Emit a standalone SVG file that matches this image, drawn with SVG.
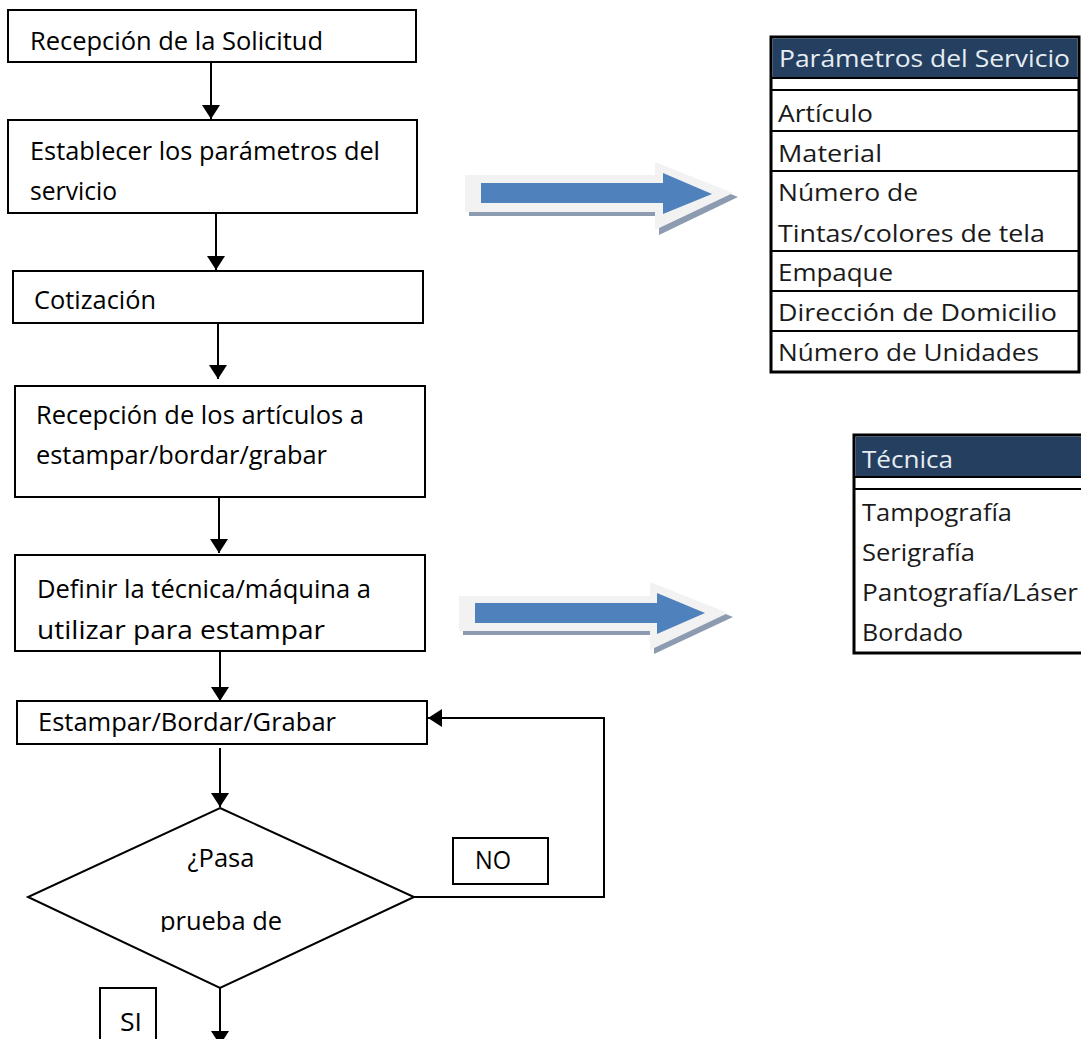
<svg xmlns="http://www.w3.org/2000/svg" width="1081" height="1039" viewBox="0 0 1081 1039">
<style>
.box{fill:#fff;stroke:#000;stroke-width:2}
.t{font-family:"Open Sans","Noto Sans","Liberation Sans",sans-serif;font-size:25.5px;fill:#000}
.tc{text-anchor:middle}
.tb{font-family:"Open Sans","Noto Sans","Liberation Sans",sans-serif;font-size:23.5px;fill:#1a1a1a}
.th{font-family:"Open Sans","Noto Sans","Liberation Sans",sans-serif;font-size:23.5px;fill:#e6ecf2}
.ln{fill:none;stroke:#000;stroke-width:2}
.row{stroke:#000;stroke-width:2}
</style>
<defs>
<marker id="ah" viewBox="0 0 14 18" refX="14" refY="9" markerWidth="14" markerHeight="18" markerUnits="userSpaceOnUse" orient="auto">
<path d="M0,0 L14,9 L0,18 Z" fill="#000"/>
</marker>
<clipPath id="dclip"><rect x="0" y="0" width="1081" height="932"/></clipPath>
</defs>

<g id="connectors">
<line class="ln" x1="211" y1="62" x2="211" y2="119" marker-end="url(#ah)"/>
<line class="ln" x1="216" y1="213" x2="216" y2="270" marker-end="url(#ah)"/>
<line class="ln" x1="218" y1="323" x2="218" y2="379" marker-end="url(#ah)"/>
<line class="ln" x1="219" y1="497" x2="219" y2="553" marker-end="url(#ah)"/>
<line class="ln" x1="220" y1="651" x2="220" y2="701" marker-end="url(#ah)"/>
<line class="ln" x1="220" y1="748" x2="220" y2="807" marker-end="url(#ah)"/>
<polyline class="ln" points="414,897 604,897 604,718 428,718" marker-end="url(#ah)"/>
<line class="ln" x1="220" y1="988" x2="220" y2="1045" marker-end="url(#ah)"/>
</g>

<g id="n1"><rect class="box" x="8" y="10" width="408" height="52"/>
<text class="t" x="30" y="50" textLength="293" lengthAdjust="spacingAndGlyphs">Recepción de la Solicitud</text></g>

<g id="n2"><rect class="box" x="8" y="120" width="409" height="93"/>
<text class="t" x="30" y="160" textLength="350" lengthAdjust="spacingAndGlyphs">Establecer los parámetros del</text>
<text class="t" x="30" y="200" textLength="87" lengthAdjust="spacingAndGlyphs">servicio</text></g>

<g id="n3"><rect class="box" x="13" y="271" width="410" height="52"/>
<text class="t" x="34" y="309" textLength="122" lengthAdjust="spacingAndGlyphs">Cotización</text></g>

<g id="n4"><rect class="box" x="15" y="386" width="410" height="111"/>
<text class="t" x="36" y="424" textLength="328" lengthAdjust="spacingAndGlyphs">Recepción de los artículos a</text>
<text class="t" x="36" y="464" textLength="291" lengthAdjust="spacingAndGlyphs">estampar/bordar/grabar</text></g>

<g id="n5"><rect class="box" x="15" y="555" width="410" height="96"/>
<text class="t" x="37" y="598" textLength="334" lengthAdjust="spacingAndGlyphs">Definir la técnica/máquina a</text>
<text class="t" x="37" y="639" textLength="288" lengthAdjust="spacingAndGlyphs">utilizar para estampar</text></g>

<g id="n6"><rect class="box" x="17" y="701" width="410" height="43"/>
<text class="t" x="38" y="731" textLength="298" lengthAdjust="spacingAndGlyphs">Estampar/Bordar/Grabar</text></g>

<g id="n7"><polygon class="box" points="220,808 414,897 220,988 28,897"/>
<text class="t tc" x="221" y="867" textLength="67" lengthAdjust="spacingAndGlyphs">¿Pasa</text>
<text class="t tc" x="221" y="930" textLength="122" lengthAdjust="spacingAndGlyphs" clip-path="url(#dclip)">prueba de</text></g>

<g id="n8"><rect class="box" x="453" y="838" width="95" height="46"/>
<text class="t" x="475" y="869" textLength="36" lengthAdjust="spacingAndGlyphs">NO</text></g>

<g id="n9"><rect class="box" x="100" y="988" width="56" height="60"/>
<text class="t" x="120" y="1031" textLength="22" lengthAdjust="spacingAndGlyphs">SI</text></g>

<g id="arrow1">
<path d="M469,180 L659,180 L659,165 L738,197 L659,235 L659,216 L469,216 Z" fill="#8c9bb0"/>
<path d="M465,175 L655,175 L655,162 L733,193 L655,230 L655,212 L465,212 Z" fill="#f2f2f2"/>
<path d="M481,183 L663,183 L663,173 L712,194 L663,214 L663,203 L481,203 Z" fill="#4f81bd"/>
</g>

<g id="arrow2">
<path d="M463,600 L654,600 L654,585 L733,617 L654,654 L654,635 L463,635 Z" fill="#8c9bb0"/>
<path d="M459,596 L650,596 L650,582 L728,613 L650,650 L650,631 L459,631 Z" fill="#f2f2f2"/>
<path d="M475,603 L657,603 L657,593 L705,613 L657,634 L657,623 L475,623 Z" fill="#4f81bd"/>
</g>

<g id="table1">
<rect x="771" y="37" width="308" height="335" fill="#fff" stroke="#000" stroke-width="3"/>
<rect x="772.5" y="38.5" width="305" height="39" fill="#243f60"/>
<line class="row" x1="771" y1="78" x2="1079" y2="78" stroke-width="1.5"/>
<line class="row" x1="771" y1="90" x2="1079" y2="90" stroke-width="3"/>
<line class="row" x1="771" y1="131" x2="1079" y2="131"/>
<line class="row" x1="771" y1="171" x2="1079" y2="171"/>
<line class="row" x1="771" y1="251" x2="1079" y2="251"/>
<line class="row" x1="771" y1="291" x2="1079" y2="291"/>
<line class="row" x1="771" y1="331" x2="1079" y2="331"/>
<text class="th" x="779" y="67" textLength="291" lengthAdjust="spacingAndGlyphs">Parámetros del Servicio</text>
<text class="tb" x="778" y="122" textLength="95" lengthAdjust="spacingAndGlyphs">Artículo</text>
<text class="tb" x="778" y="162" textLength="104" lengthAdjust="spacingAndGlyphs">Material</text>
<text class="tb" x="778" y="201" textLength="140" lengthAdjust="spacingAndGlyphs">Número de</text>
<text class="tb" x="778" y="242" textLength="267" lengthAdjust="spacingAndGlyphs">Tintas/colores de tela</text>
<text class="tb" x="778" y="281" textLength="115" lengthAdjust="spacingAndGlyphs">Empaque</text>
<text class="tb" x="778" y="321" textLength="279" lengthAdjust="spacingAndGlyphs">Dirección de Domicilio</text>
<text class="tb" x="778" y="361" textLength="261" lengthAdjust="spacingAndGlyphs">Número de Unidades</text>
</g>

<g id="table2">
<rect x="854" y="435" width="240" height="218" fill="#fff" stroke="#000" stroke-width="3"/>
<rect x="855.5" y="436.5" width="230" height="40" fill="#243f60"/>
<line class="row" x1="854" y1="477" x2="1081" y2="477" stroke-width="1.5"/>
<line class="row" x1="854" y1="489" x2="1081" y2="489" stroke-width="3"/>
<text class="th" x="862" y="468" textLength="91" lengthAdjust="spacingAndGlyphs">Técnica</text>
<text class="tb" x="862" y="521" textLength="150" lengthAdjust="spacingAndGlyphs">Tampografía</text>
<text class="tb" x="862" y="561" textLength="113" lengthAdjust="spacingAndGlyphs">Serigrafía</text>
<text class="tb" x="862" y="601" textLength="216" lengthAdjust="spacingAndGlyphs">Pantografía/Láser</text>
<text class="tb" x="862" y="641" textLength="101" lengthAdjust="spacingAndGlyphs">Bordado</text>
</g>
</svg>
